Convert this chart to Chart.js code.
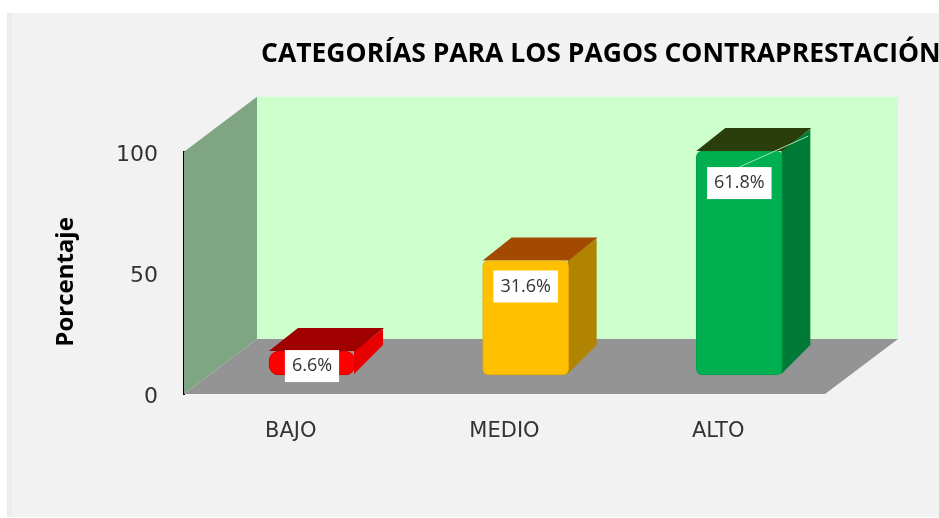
<!DOCTYPE html>
<html>
<head>
<meta charset="utf-8">
<script src="https://cdn.jsdelivr.net/npm/chart.js@4"></script>
<style>
    html, body { margin: 0; background: #fff; overflow: hidden; }
    #panel { position: absolute; left: 7px; top: 13px; width: 927px; height: 504px; background: #f2f2f2; border-left: 5px solid #ececec; }
    #wrap { position: absolute; left: 0; top: 0; width: 939px; height: 518px; }
</style>
</head>
<body>
<div id="panel"></div>
<div id="wrap"><canvas id="chart"></canvas></div>
<script>
const CATEGORIES = ['BAJO', 'MEDIO', 'ALTO'];
const VALUES = [6.6, 31.6, 61.8];
const Y_TICKS = [0, 50, 100];
const CHART_TITLE = 'CATEGORÍAS PARA LOS PAGOS CONTRAPRESTACIÓN';
const AXIS_TITLE = 'Porcentaje';

const FRONT_COLORS = ['#ff0000', '#ffc000', '#00b050'];
const EDGE_COLORS = ['#d40000', '#e6ac00', '#00a049'];
const SIDE_COLORS = ['#e80000', '#b08400', '#007a37'];
const TOP_COLORS = ['#a00000', '#a34a00', '#2c3d0c'];

// room depth (floor/walls) and bar depth, in pixels
const ROOM_DX = 73, ROOM_DY = -55;
const BAR_DX = 29, BAR_DY = -23;
// label boxes are centred this far below the top of each bar
const LABEL_DROP = [15, 26, 32];

function poly(ctx, color, pts) {
    ctx.fillStyle = color;
    ctx.beginPath();
    pts.forEach((p, i) => i ? ctx.lineTo(p[0], p[1]) : ctx.moveTo(p[0], p[1]));
    ctx.closePath();
    ctx.fill();
}

const roomPlugin = {
    id: 'room',
    afterLayout(chart) {
        // title starts left of centre and runs off the right edge
        chart.titleBlock.left = 261;
        chart.titleBlock.right = 1400;
        // axis title sits a little below the middle of the axis
        chart.scales.yBars.top += 9;
        chart.scales.yBars.bottom += 9;
    },
    beforeDatasetsDraw(chart) {
        const { ctx, scales: { x, y } } = chart;
        const l = x.left, r = x.right, b = y.getPixelForValue(0), t = y.getPixelForValue(100);
        poly(ctx, '#ccffcc', [[l + ROOM_DX, t + ROOM_DY], [r + ROOM_DX, t + ROOM_DY], [r + ROOM_DX, b + ROOM_DY], [l + ROOM_DX, b + ROOM_DY]]);
        poly(ctx, '#7fa582', [[l, t], [l + ROOM_DX, t + ROOM_DY], [l + ROOM_DX, b + ROOM_DY], [l, b]]);
        poly(ctx, '#949494', [[l, b], [l + ROOM_DX, b + ROOM_DY], [r + ROOM_DX, b + ROOM_DY], [r, b]]);

        // side and top faces of the bars
        chart.getDatasetMeta(0).data.forEach((bar, i) => {
            const left = bar.x - bar.width / 2, right = bar.x + bar.width / 2;
            poly(ctx, SIDE_COLORS[i], [[right - 1, bar.y], [right + BAR_DX - 1, bar.y + BAR_DY + 1], [right + BAR_DX - 1, bar.base - 30], [right - 1, bar.base - 1]]);
            poly(ctx, TOP_COLORS[i], [[left, bar.y], [left + BAR_DX, bar.y + BAR_DY], [right + BAR_DX, bar.y + BAR_DY], [right, bar.y]]);
        });
    },
    afterDatasetsDraw(chart) {
        const { ctx } = chart;
        chart.getDatasetMeta(0).data.forEach((bar, i) => {
            const text = VALUES[i].toFixed(1) + '%';
            const cy = bar.y + LABEL_DROP[i];
            ctx.font = '18px "Open Sans", sans-serif';
            const w = ctx.measureText(text).width + 14;
            if (i === 2) {
                // leader line from the label to the bar
                ctx.strokeStyle = '#9be8b0';
                ctx.lineWidth = 1;
                ctx.beginPath();
                ctx.moveTo(bar.x, cy - 16);
                ctx.lineTo(bar.x + bar.width / 2 + BAR_DX - 3, bar.y + BAR_DY + 8);
                ctx.stroke();
            }
            ctx.fillStyle = '#fff';
            ctx.fillRect(bar.x - w / 2, cy - 16, w, 32);
            ctx.fillStyle = '#333';
            ctx.textAlign = 'center';
            ctx.textBaseline = 'middle';
            ctx.fillText(text, bar.x, cy);
        });
    }
};

new Chart(document.getElementById('chart'), {
    type: 'bar',
    data: {
        labels: CATEGORIES,
        datasets: [{
            data: VALUES.map((v, i) => ({ x: i + 1, y: v })),
            xAxisID: 'xBars',
            yAxisID: 'yBars',
            backgroundColor: FRONT_COLORS,
            borderColor: EDGE_COLORS,
            borderWidth: 1,
            borderRadius: [10, 6, 6],
            borderSkipped: false,
            barThickness: 86,
            clip: false,
        }]
    },
    options: {
        responsive: true, maintainAspectRatio: false,
        animation: false,
        layout: { padding: { right: 114, left: 0, top: 0, bottom: 0 } },
        plugins: {
            legend: { display: false },
            tooltip: { enabled: false },
            title: {
                display: true,
                text: CHART_TITLE,
                align: 'start',
                color: '#000',
                font: { family: '"Open Sans", sans-serif', size: 26.5, weight: 'bold' },
                padding: { top: 39, bottom: 81 },
            }
        },
        scales: {
            x: {
                type: 'category',
                position: 'bottom',
                grid: { display: false },
                border: { display: false },
                ticks: { color: '#333', font: { family: '"DejaVu Sans"', size: 21 }, padding: 17 },
                afterFit: s => { s.height = 124; },
            },
            y: {
                position: 'left',
                min: 0, max: 100,
                grid: { display: false },
                border: { color: '#000', width: 2 },
                ticks: {
                    color: '#333', font: { family: '"DejaVu Sans"', size: 22 }, padding: 18,
                    labelOffset: 3.5,
                    autoSkip: false,
                    callback: v => Y_TICKS.includes(v) ? v : null,
                    stepSize: 50,
                },
                afterFit: s => { s.width = 104; },
            },
            // front faces stand further back than the axis plane, so they get their own hidden axes
            xBars: { type: 'linear', display: false, offset: false, min: 0.401, max: 3.401 },
            yBars: {
                position: 'left',
                weight: 1,
                min: -5.25, max: 61.6,
                grid: { display: false },
                border: { display: false },
                ticks: { display: false },
                title: { display: true, text: AXIS_TITLE, color: '#000', font: { family: '"Open Sans", sans-serif', size: 24, weight: 'bold' }, padding: { top: 52, bottom: 0 } },
                afterFit: s => { s.width = 80; },
            },
        }
    },
    plugins: [roomPlugin]
});
</script>
</body>
</html>
